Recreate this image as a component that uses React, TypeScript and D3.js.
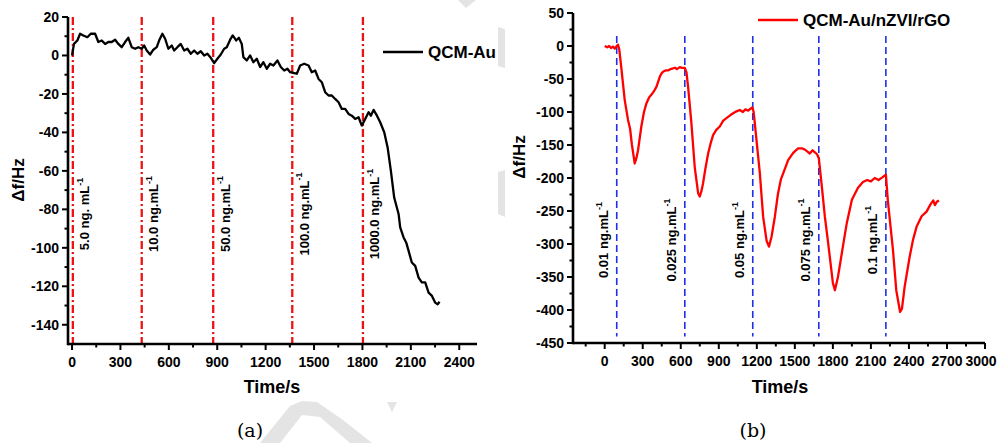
import React from "react";
import * as d3 from "d3";

// panel (a): QCM-Au
const timeA = [0, 12, 33, 50, 70, 95, 116, 143, 163, 184, 205, 225, 246, 267, 287, 308, 329, 349, 370, 391, 411, 432, 447, 463, 484, 504, 525, 542, 560, 577, 597, 618, 633, 653, 674, 695, 715, 736, 757, 777, 798, 819, 839, 860, 881, 901, 922, 943, 959, 980, 996, 1017, 1034, 1052, 1062, 1083, 1104, 1124, 1145, 1166, 1186, 1207, 1228, 1248, 1273, 1294, 1315, 1335, 1352, 1377, 1393, 1414, 1439, 1466, 1486, 1507, 1528, 1548, 1569, 1590, 1610, 1631, 1652, 1672, 1693, 1714, 1734, 1755, 1776, 1796, 1817, 1838, 1852, 1869, 1890, 1910, 1935, 1956, 1976, 1997, 2024, 2034, 2055, 2071, 2086, 2106, 2127, 2148, 2168, 2189, 2210, 2231, 2251, 2266, 2278];
const dfA = [0, 6, 7.8, 11.3, 10.4, 9.5, 11.3, 11.3, 7, 7.8, 6, 7, 7, 8.2, 6, 4.3, 7, 9.2, 4.3, 3.5, 4.3, 3.5, 5.2, 2.6, 0.5, 3, 4.3, 8.2, 11.3, 8.7, 3.5, 5.2, 2.6, 4.3, 6, 2.6, 3.5, 0.9, 2.6, 0.9, 2.2, 0, 0.9, -1.2, -4, -1.7, 0.5, 3.5, 4.3, 8.2, 10.4, 7.8, 9.2, 6, -0.9, -2.6, 0, -3.5, -1.7, -6, -3.5, -6.9, -4.3, -5.2, -2.6, -6, -7.8, -6.9, -8.7, -9.2, -9.5, -5.2, -4.3, -5.2, -8.7, -7.8, -12.2, -13.9, -19.1, -20.8, -20.8, -22.6, -24.3, -27.8, -27.8, -30.4, -31.3, -33, -32.1, -36.5, -33, -29.5, -31.3, -28.3, -31.3, -34.7, -39.9, -47.8, -59.9, -74, -82.4, -89.4, -94.6, -97.2, -101.6, -107.6, -109.4, -115.5, -118, -118, -123.3, -125, -128.5, -129.3, -128];
const injectA = [5, 432, 875, 1365, 1803];
const labelsA = ["5.0 ng. mL", "10.0 ng.mL", "50.0 ng.mL", "100.0 ng.mL", "1000.0 ng.mL"];
const xTicksA = [0, 300, 600, 900, 1200, 1500, 1800, 2100, 2400];
const xMinorA = [150, 450, 750, 1050, 1350, 1650, 1950, 2250];
const yTicksA = [20, 0, -20, -40, -60, -80, -100, -120, -140];
const yMinorA = [10, -10, -30, -50, -70, -90, -110, -130];

// panel (b): QCM-Au/nZVI/rGO
const timeB = [0, 20, 35, 50, 65, 80, 95, 105, 115, 130, 158, 184, 200, 215, 237, 250, 263, 289, 310, 329, 350, 368, 390, 408, 420, 434, 447, 460, 480, 500, 520, 539, 555, 570, 592, 610, 632, 645, 658, 684, 710, 737, 750, 763, 776, 795, 816, 835, 855, 880, 908, 935, 963, 990, 1013, 1040, 1066, 1090, 1110, 1132, 1150, 1165, 1175, 1184, 1224, 1250, 1277, 1296, 1316, 1342, 1366, 1390, 1408, 1447, 1487, 1526, 1555, 1579, 1600, 1618, 1640, 1658, 1675, 1689, 1713, 1737, 1760, 1800, 1816, 1840, 1879, 1910, 1950, 1997, 2037, 2070, 2100, 2130, 2160, 2190, 2218, 2234, 2274, 2300, 2330, 2345, 2366, 2406, 2432, 2460, 2500, 2539, 2570, 2592, 2605, 2620, 2637];
const dfB = [0, -2, 0, -3, -1, -4, 0, 2, -5, -31, -82, -112, -125, -150, -178, -170, -158, -122, -100, -87, -78, -74, -68, -62, -55, -47, -42, -39, -37, -37, -35, -34, -33, -35, -32, -33, -33, -40, -62, -117, -183, -223, -228, -220, -208, -185, -163, -148, -135, -127, -122, -113, -109, -105, -102, -99, -97, -100, -96, -98, -95, -93, -100, -117, -193, -259, -295, -304, -289, -259, -225, -202, -193, -173, -162, -155, -155, -157, -160, -163, -158, -161, -164, -170, -213, -259, -294, -359, -370, -350, -304, -268, -233, -215, -206, -203, -205, -200, -203, -199, -195, -235, -309, -370, -403, -398, -365, -319, -294, -274, -258, -251, -240, -234, -241, -236, -234];
const injectB = [95, 632, 1168, 1689, 2218];
const labelsB = ["0.01 ng.mL", "0.025 ng.mL", "0.05 ng.mL", "0.075 ng.mL", "0.1 ng.mL"];
const xTicksB = [0, 300, 600, 900, 1200, 1500, 1800, 2100, 2400, 2700, 3000];
const xMinorB = [-150, 150, 450, 750, 1050, 1350, 1650, 1950, 2250, 2550, 2850];
const yTicksB = [50, 0, -50, -100, -150, -200, -250, -300, -350, -400, -450];
const yMinorB = [25, -25, -75, -125, -175, -225, -275, -325, -375, -425];

const font = "'Liberation Sans', Arial, sans-serif";

const Panel = ({ x, y, time, df, xTicks, xMinor, yTicks, yMinor, color, inject, labels, injTop, injBottom, injStyle, labelDx, labelY, legend, legendX, legendY, titleX, titleY, timeX, caption, captionX }) => {
    const line = d3.line().x((d, i) => x(time[i])).y(d => y(d))
    const [x0, x1] = x.range();
    const [yb, yt] = y.range();
    return (
        <g fontFamily={font} fontWeight="bold">
            {inject.map((t, i) => (
                <line key={'inj' + i} x1={x(t)} x2={x(t)} y1={y(injTop)} y2={y(injBottom)}
                    stroke={injStyle.stroke} strokeWidth={injStyle.width} strokeDasharray={injStyle.dash} />
            ))}
            {inject.map((t, i) => (
                <text key={'lab' + i} transform={`translate(${x(t) + labelDx},${labelY}) rotate(-90)`}
                    textAnchor="middle" dominantBaseline="central" fontSize="13" fill="#000">
                    {labels[i]}<tspan fontSize="9" dy="-5">-1</tspan>
                </text>
            ))}
            <path d={line(df)} fill="none" stroke={color} strokeWidth="2.3" strokeLinejoin="round" />

            {/* axes */}
            <line x1={x0} x2={x1} y1={yb} y2={yb} stroke="#000" strokeWidth="2.6" />
            <line x1={x0} x2={x0} y1={yb + 1.3} y2={yt} stroke="#000" strokeWidth="2.6" />
            {xTicks.map(t => (
                <g key={'xt' + t}>
                    <line x1={x(t)} x2={x(t)} y1={yb} y2={yb + 6} stroke="#000" strokeWidth="2" />
                    <text x={Math.min(x(t), 981)} y={yb + 23} textAnchor="middle" fontSize="14">{t}</text>
                </g>
            ))}
            {xMinor.map(t => (
                <line key={'xm' + t} x1={x(t)} x2={x(t)} y1={yb} y2={yb + 3.5} stroke="#000" strokeWidth="2" />
            ))}
            {yTicks.map(v => (
                <g key={'yt' + v}>
                    <line x1={x0 - 6} x2={x0} y1={y(v)} y2={y(v)} stroke="#000" strokeWidth="2" />
                    <text x={x0 - 9} y={y(v)} textAnchor="end" dominantBaseline="central" fontSize="14">{v}</text>
                </g>
            ))}
            {yMinor.map(v => (
                <line key={'ym' + v} x1={x0 - 3.5} x2={x0} y1={y(v)} y2={y(v)} stroke="#000" strokeWidth="2" />
            ))}

            <text transform={`translate(${titleX},${titleY}) rotate(-90)`} textAnchor="middle" fontSize="17">Δf/Hz</text>
            <text x={timeX} y={393} textAnchor="middle" fontSize="18">Time/s</text>

            <line x1={legendX} x2={legendX + 40} y1={legendY} y2={legendY} stroke={color} strokeWidth="2.6" />
            <text x={legendX + 45} y={legendY + 6} fontSize="17">{legend}</text>

            <text x={captionX} y={437} textAnchor="middle" fontFamily="'DejaVu Serif', 'Liberation Serif', serif" fontWeight="normal" fontSize="19">{caption}</text>
        </g>
    );
};

export default function App() {
    const xA = d3.scaleLinear().domain([-25, 2510]).range([68, 477]);
    const yA = d3.scaleLinear().domain([-150, 20]).range([344, 17]);
    const xB = d3.scaleLinear().domain([-250, 3000]).range([573, 985]);
    const yB = d3.scaleLinear().domain([-450, 50]).range([343, 13]);

    return (
        <svg width={999} height={443} style={{ position: 'absolute', left: 0, top: 0, background: '#fff' }}>
            {/* faint watermark */}
            <g fill="#e4e4e4">
                <polygon points="458,0 476,0 466,8" />
                <polygon points="498,27 505,29 505,68 498,66" />
                <polygon points="498,172 505,170 505,217 498,214" />
                <polygon points="260,443 290,406 302,401 317,402 343,420 372,443 350,443 320,417 302,415 280,443" />
                <polygon points="387,402 397,402 392,412" />
            </g>
            <Panel x={xA} y={yA} time={timeA} df={dfA} xTicks={xTicksA} xMinor={xMinorA} yTicks={yTicksA} yMinor={yMinorA}
                color="#000" inject={injectA} labels={labelsA} injTop={20} injBottom={-150}
                injStyle={{ stroke: '#ee1111', width: 2.3, dash: '8,3,2,3' }} labelDx={12} labelY={214}
                legend="QCM-Au" legendX={383} legendY={52} titleX={24} titleY={180} timeX={272}
                caption="(a)" captionX={250} />
            <Panel x={xB} y={yB} time={timeB} df={dfB} xTicks={xTicksB} xMinor={xMinorB} yTicks={yTicksB} yMinor={yMinorB}
                color="#ff0000" inject={injectB} labels={labelsB} injTop={15} injBottom={-440}
                injStyle={{ stroke: '#1f2fe8', width: 1.6, dash: '7,4' }} labelDx={-13} labelY={240}
                legend="QCM-Au/nZVI/rGO" legendX={758} legendY={20} titleX={525} titleY={157} timeX={780}
                caption="(b)" captionX={753} />
        </svg>
    );
}
